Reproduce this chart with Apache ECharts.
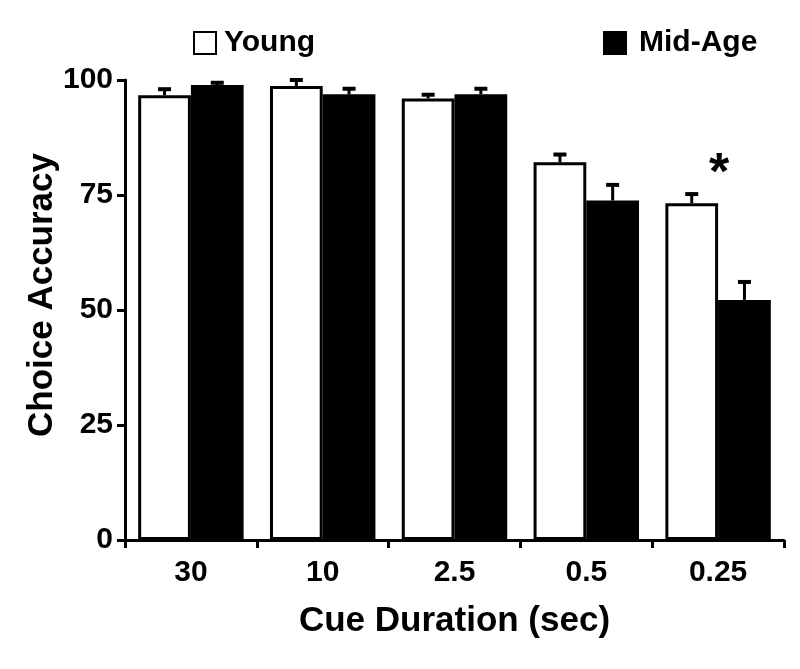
<!DOCTYPE html>
<html>
<head>
<meta charset="utf-8">
<script src="https://cdn.jsdelivr.net/npm/echarts@6/dist/echarts.min.js"></script>
<style>html,body{margin:0;padding:0;background:#fff;}#chart{width:800px;height:669px;}</style>
</head>
<body>
<div id="chart"></div>
<script>
const categories = ['30', '10', '2.5', '0.5', '0.25'];
const young = [96.7, 98.7, 96.0, 82.1, 73.2];
const midAge = [98.9, 96.9, 96.9, 73.8, 52.2];
const youngErr = [1.3, 1.3, 0.8, 1.7, 2.0];
const midAgeErr = [0.5, 1.2, 1.2, 3.4, 3.9];
const yTicks = [0, 25, 50, 75, 100];
const sigMarks = [['0.25', 81.5]];

const FONT = '"Liberation Sans", Arial, sans-serif';
const chart = echarts.init(document.getElementById('chart'), null, {renderer: 'canvas'});

const errData = [];
categories.forEach((c, i) => {
  errData.push([i, young[i], youngErr[i], -1]);
  errData.push([i, midAge[i], midAgeErr[i], 1]);
});

function renderErr(params, api) {
  const idx = api.value(0);
  const v = api.value(1);
  const e = api.value(2);
  const sign = api.value(3);
  const band = api.size([1, 0])[0];
  const base = api.coord([idx, v]);
  const top = api.coord([idx, v + e]);
  const x = base[0] + sign * band * 0.2;
  const half = 6.5;
  return {
    type: 'group',
    children: [
      {type: 'line', shape: {x1: x, y1: base[1], x2: x, y2: top[1]}, style: {stroke: '#000', lineWidth: 3}},
      {type: 'line', shape: {x1: x - half, y1: top[1], x2: x + half, y2: top[1]}, style: {stroke: '#000', lineWidth: 4}}
    ]
  };
}

const option = {
  backgroundColor: '#fff',
  animation: false,
  textStyle: {fontFamily: FONT},
  legend: [
    {
      left: 188, top: 23, itemWidth: 22, itemHeight: 22, itemGap: 10, icon: 'rect',
      data: [{name: 'Young', icon: 'rect', itemStyle: {color: '#fff', borderColor: '#000', borderWidth: 2}}],
      textStyle: {fontSize: 30, fontWeight: 'bold', color: '#000', fontFamily: FONT, padding: [0, 0, 0, 3]}
    },
    {
      left: 598, top: 23, itemWidth: 22, itemHeight: 22, itemGap: 10, icon: 'rect',
      data: [{name: 'Mid-Age', icon: 'rect', itemStyle: {color: '#000', borderColor: '#000', borderWidth: 2}}],
      textStyle: {fontSize: 30, fontWeight: 'bold', color: '#000', fontFamily: FONT, padding: [0, 0, 0, 8]}
    }
  ],
  grid: {left: 125, right: 16, top: 80, bottom: 129, containLabel: false},
  xAxis: {
    type: 'category',
    data: categories,
    name: 'Cue Duration (sec)',
    nameLocation: 'middle',
    nameGap: 64,
    nameTextStyle: {fontSize: 35, fontWeight: 'bold', color: '#000', fontFamily: FONT},
    axisLine: {lineStyle: {color: '#000', width: 3}},
    axisTick: {show: true, length: 8, lineStyle: {color: '#000', width: 3}},
    axisLabel: {fontSize: 30, fontWeight: 'bold', color: '#000', margin: 18, fontFamily: FONT}
  },
  yAxis: {
    type: 'value',
    min: 0, max: 100, interval: 25,
    name: 'Choice Accuracy',
    nameLocation: 'middle',
    nameGap: 65,
    nameMoveOverlap: false,
    nameTextStyle: {fontSize: 35, fontWeight: 'bold', color: '#000', fontFamily: FONT, padding: [0, 0, 0, 30]},
    axisLine: {show: true, lineStyle: {color: '#000', width: 3}},
    axisTick: {show: true, length: 8, lineStyle: {color: '#000', width: 3}},
    splitLine: {show: false},
    axisLabel: {fontSize: 30, fontWeight: 'bold', color: '#000', margin: 12, fontFamily: FONT,
      formatter: v => yTicks.includes(v) ? String(v) : ''}
  },
  series: [
    {
      name: 'Young', type: 'bar', data: young,
      barGap: '0%', barCategoryGap: '20%',
      itemStyle: {color: '#fff', borderColor: '#000', borderWidth: 3}
    },
    {
      name: 'Mid-Age', type: 'bar', data: midAge,
      barGap: '0%', barCategoryGap: '20%',
      itemStyle: {color: '#000', borderColor: '#000', borderWidth: 3}
    },
    {
      type: 'custom', name: 'err', data: errData, renderItem: renderErr, z: 5,
      encode: {x: 0, y: 1}
    },
    {
      type: 'scatter', name: 'sig', data: sigMarks, symbolSize: 0, z: 6,
      itemStyle: {opacity: 1, color: '#000'},
      label: {show: true, position: 'inside', formatter: '*', fontSize: 52, fontWeight: 'bold', color: '#000', opacity: 1, fontFamily: FONT, offset: [1, 10]}
    }
  ]
};
chart.setOption(option);
</script>
</body>
</html>
